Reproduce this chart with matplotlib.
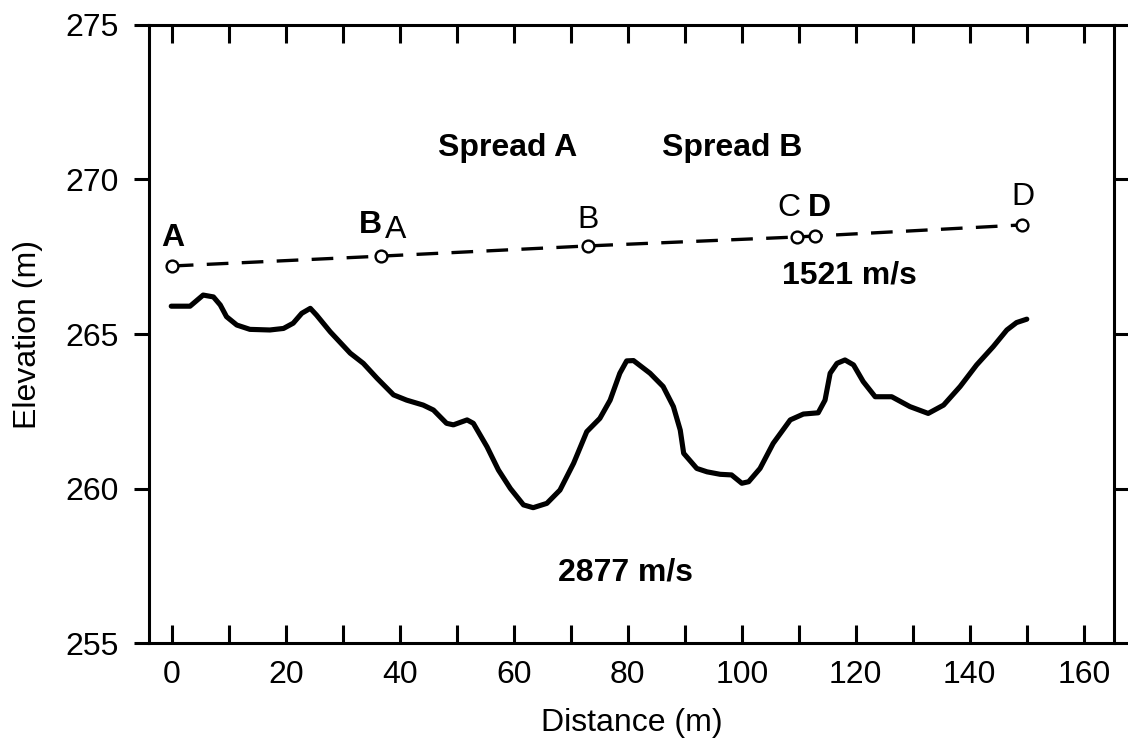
import matplotlib
matplotlib.use("Agg")
import matplotlib.pyplot as plt
from matplotlib.ticker import MultipleLocator

plt.rcParams['font.family'] = ['Liberation Sans', 'DejaVu Sans']

# Ground surface profile (distance m, elevation m)
ground_x = [-0.1, 3.2, 5.5, 7.3, 8.5, 9.6, 11.4, 13.7, 17.2, 19.6, 21.3, 22.8, 24.3,
            25.4, 27.8, 31.3, 33.6, 36.0, 38.9, 41.2, 44.1, 45.9, 48.2, 49.4, 51.8,
            52.9, 55.3, 57.3, 59.4, 61.7, 63.4, 65.8, 68.1, 70.5, 72.8, 75.1, 76.9,
            78.6, 79.8, 81.0, 83.9, 86.2, 88.0, 89.2, 89.8, 92.1, 93.9, 96.2, 98.2,
            100.0, 101.2, 103.2, 105.5, 108.5, 110.8, 113.4, 114.6, 115.5, 116.7,
            118.1, 119.6, 121.3, 123.4, 126.3, 129.5, 132.7, 135.4, 138.3, 141.2,
            144.1, 146.5, 148.2, 150.0]
ground_y = [265.9, 265.9, 266.26, 266.2, 265.94, 265.56, 265.29, 265.15, 265.13, 265.18,
            265.35, 265.67, 265.83, 265.61, 265.07, 264.38, 264.05, 263.57, 263.03,
            262.86, 262.70, 262.54, 262.11, 262.06, 262.22, 262.11, 261.35, 260.6,
            260.0, 259.47, 259.38, 259.52, 259.95, 260.82, 261.84, 262.27, 262.86,
            263.73, 264.13, 264.14, 263.73, 263.30, 262.65, 261.89, 261.14, 260.65,
            260.54, 260.46, 260.44, 260.17, 260.22, 260.65, 261.46, 262.22, 262.41,
            262.45, 262.86, 263.73, 264.05, 264.16, 264.0, 263.46, 262.97, 262.97,
            262.65, 262.43, 262.70, 263.30, 264.0, 264.59, 265.13, 265.37, 265.48]

# Shot points / spread ends along the refractor line
shot_x = [0.0, 36.7, 73.0, 109.7, 112.8, 149.2]
shot_y = [267.2, 267.52, 267.85, 268.14, 268.17, 268.53]

# Letter labels: (text, x, y, bold)
label_text = ['A', 'B', 'A', 'B', 'C', 'D', 'D']
label_x = [0.2, 34.8, 39.2, 73.0, 108.3, 113.6, 149.4]
label_y = [268.1, 268.53, 268.37, 268.69, 269.08, 269.08, 269.43]
label_bold = [True, True, False, False, False, True, False]

# Annotations
annot_text = ['Spread A', 'Spread B', '1521 m/s', '2877 m/s']
annot_x = [59.0, 98.3, 118.8, 79.6]
annot_y = [271.02, 271.02, 266.9, 257.27]

fig = plt.figure(figsize=(11.28, 7.52), dpi=100)
ax = fig.add_axes([0.1321, 0.1449, 0.8555, 0.8219])

ax.plot(ground_x, ground_y, color='black', lw=3.7, solid_capstyle='round',
        solid_joinstyle='round')
ax.plot(shot_x, shot_y, color='black', lw=2.4, dashes=(6.5, 4.0),
        marker='o', ms=8.5, mfc='white', mec='black', mew=1.7)

for t, x, y, b in zip(label_text, label_x, label_y, label_bold):
    ax.text(x, y, t, ha='center', va='center', fontsize=23,
            fontweight='bold' if b else 'normal')
for t, x, y in zip(annot_text, annot_x, annot_y):
    ax.text(x, y, t, ha='center', va='center', fontsize=23, fontweight='bold')

ax.set_xlim(-4.0, 165.3)
ax.set_ylim(255, 275)
ax.xaxis.set_major_locator(MultipleLocator(20))
ax.xaxis.set_minor_locator(MultipleLocator(10))
ax.yaxis.set_major_locator(MultipleLocator(5))

ax.tick_params(axis='x', which='both', direction='in', top=True, bottom=True,
               length=13, width=2.2, labelsize=23, pad=12)
ax.tick_params(axis='y', which='both', direction='out', left=True, right=True,
               length=11, width=2.2, labelsize=23, pad=11)
for s in ax.spines.values():
    s.set_linewidth(2.2)

ax.set_xlabel('Distance (m)', fontsize=23, labelpad=13)
ax.set_ylabel('Elevation (m)', fontsize=23, labelpad=16)

fig.savefig('out.png', dpi=100, facecolor='white')
